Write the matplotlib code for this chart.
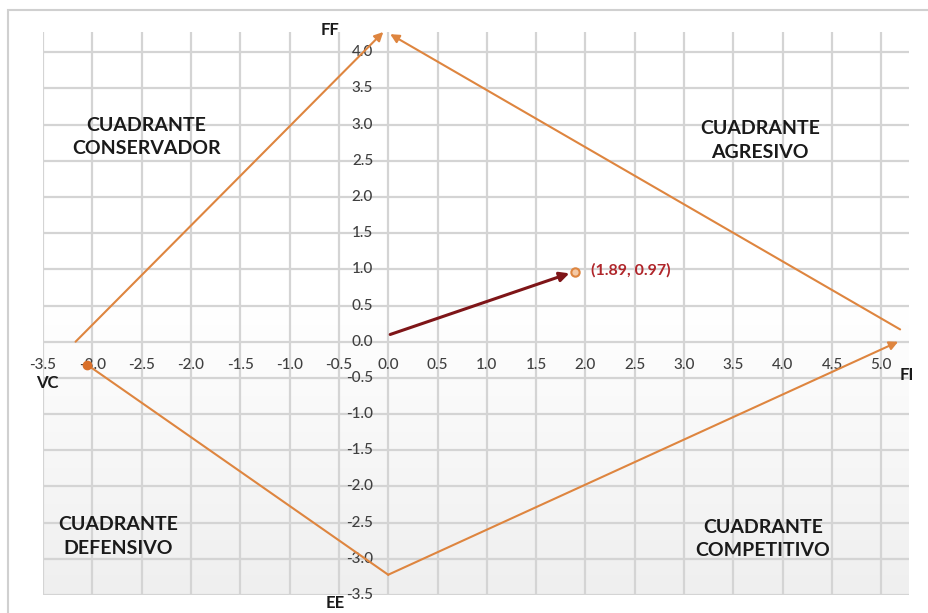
import numpy as np
import matplotlib.pyplot as plt
from matplotlib.patches import Rectangle
from matplotlib.colors import LinearSegmentedColormap

# ejes del grafico
x_ticks = [-3.5, -3.0, -2.5, -2.0, -1.5, -1.0, -0.5, 0.0, 0.5, 1.0, 1.5, 2.0, 2.5, 3.0, 3.5, 4.0, 4.5, 5.0]
y_ticks = [-3.5, -3.0, -2.5, -2.0, -1.5, -1.0, -0.5, 0.0, 0.5, 1.0, 1.5, 2.0, 2.5, 3.0, 3.5, 4.0]

# vectores de la matriz (inicio -> fin)
conservador_x = [-3.17, -0.05]
conservador_y = [0.0, 4.28]
agresivo_x = [5.19, 0.02]
agresivo_y = [0.17, 4.25]
competitivo_x = [0.0, 5.17]
competitivo_y = [-3.22, 0.0]
defensivo_x = [0.0, -3.05]
defensivo_y = [-3.22, -0.32]

# vector resultante
resultado_x = [0.02, 1.89]
resultado_y = [0.10, 0.97]
resultado_label = "(1.89, 0.97)"

cuadrantes = ["CUADRANTE\nCONSERVADOR", "CUADRANTE\nAGRESIVO", "CUADRANTE\nDEFENSIVO", "CUADRANTE\nCOMPETITIVO"]
cuadrantes_x = [-2.45, 3.77, -2.74, 3.80]
cuadrantes_y = [2.83, 2.78, -2.69, -2.73]

ejes_label = ["FF", "FI", "EE", "VC"]

naranja = "#DE853F"
rojo = "#7E1518"
gris = "#D4D4D4"

plt.rcParams['font.family'] = ['Lato', 'DejaVu Sans']

fig = plt.figure(figsize=(9.29, 6.13), dpi=100)
ax = fig.add_axes([43/929, 1 - 595/613, (909-43)/929, (595-32)/613])
ax.set_xlim(-3.5, 5.28)
ax.set_ylim(-3.5, 4.28)

# borde exterior
fig.patches.append(Rectangle((8/929, -0.1), 1.2, 1 - 10/613 + 0.1, transform=fig.transFigure,
                             fill=False, edgecolor="#D0D0D0", linewidth=1.5))

# fondo degradado suave en la parte inferior
cmap_fondo = LinearSegmentedColormap.from_list("fondo", ["#FFFFFF", "#EFEFEF"])
grad = np.linspace(0, 1, 100).reshape(-1, 1)
ax.imshow(grad, extent=[-3.5, 5.28, -3.5, 0.5], aspect='auto', cmap=cmap_fondo,
          origin='upper', zorder=0)

for x in x_ticks:
    ax.axvline(x, color=gris, linewidth=1.6, zorder=1)
for y in y_ticks:
    ax.axhline(y, color=gris, linewidth=1.6, zorder=1)

for s in ax.spines.values():
    s.set_visible(False)
ax.set_xticks([])
ax.set_yticks([])

# etiquetas de los ejes
for x in x_ticks:
    ax.annotate(f"{x:.1f}", (x, 0), xytext=(0, -23), textcoords='offset pixels',
                ha='center', va='center', fontsize=11, color="#404040", fontweight='medium')
for y in y_ticks:
    ax.annotate(f"{y:.1f}", (0, y), xytext=(-15, 0), textcoords='offset pixels',
                ha='right', va='center', fontsize=11, color="#404040", fontweight='medium')

# vectores naranjas
for vx, vy in [(conservador_x, conservador_y), (agresivo_x, agresivo_y), (competitivo_x, competitivo_y)]:
    ax.annotate("", xy=(vx[1], vy[1]), xytext=(vx[0], vy[0]),
                arrowprops=dict(arrowstyle='-|>', color=naranja, lw=1.5,
                                mutation_scale=13, shrinkA=0, shrinkB=0), zorder=3)
ax.plot(defensivo_x, defensivo_y, color=naranja, lw=1.5, zorder=3)
ax.plot(defensivo_x[1], defensivo_y[1], 'o', color="#D9702A", markersize=6, zorder=4)

# vector resultante
ax.annotate("", xy=(resultado_x[1], resultado_y[1]), xytext=(resultado_x[0], resultado_y[0]),
            arrowprops=dict(arrowstyle='-|>', color=rojo, lw=2.2, mutation_scale=14,
                            shrinkA=0, shrinkB=4), zorder=4)
ax.plot(resultado_x[1], resultado_y[1], 'o', markerfacecolor="#F4C9A6", markeredgecolor=naranja,
        markersize=6, markeredgewidth=1.5, zorder=5)
ax.annotate(resultado_label, (resultado_x[1], resultado_y[1]), xytext=(16, 1), textcoords='offset pixels',
            ha='left', va='center', fontsize=11.5, fontweight='bold', color="#B0262B")

for txt, x, y in zip(cuadrantes, cuadrantes_x, cuadrantes_y):
    ax.text(x, y, txt, ha='center', va='center', fontsize=14, fontweight='bold',
            color="#1A1A1A", linespacing=1.45)

# nombres de los ejes
ax.annotate(ejes_label[0], (0, 4.28), xytext=(-58, 2), textcoords='offset pixels',
            ha='center', va='center', fontsize=12, fontweight='bold', color="#1A1A1A", annotation_clip=False)
ax.annotate(ejes_label[1], (5.28, 0), xytext=(-2, -33), textcoords='offset pixels',
            ha='center', va='center', fontsize=12, fontweight='bold', color="#1A1A1A", annotation_clip=False)
ax.annotate(ejes_label[2], (0, -3.5), xytext=(-53, -8), textcoords='offset pixels',
            ha='center', va='center', fontsize=12, fontweight='bold', color="#1A1A1A", annotation_clip=False)
ax.annotate(ejes_label[3], (-3.5, 0), xytext=(4, -41), textcoords='offset pixels',
            ha='center', va='center', fontsize=12, fontweight='bold', color="#1A1A1A", annotation_clip=False)

fig.savefig("out.png", dpi=100)
